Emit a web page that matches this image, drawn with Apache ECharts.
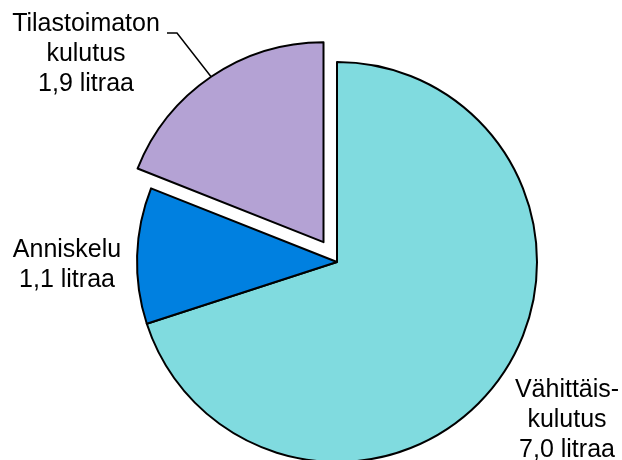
<!DOCTYPE html>
<html>
<head>
<meta charset="utf-8">
<script src="https://cdn.jsdelivr.net/npm/echarts@6/dist/echarts.min.js"></script>
<style>
	html, body { margin: 0; padding: 0; background: #fff; }
	#main { width: 622px; height: 460px; }
</style>
</head>
<body>
<div id="main"></div>
<script>
// kulutus litroina (100 % alkoholia) asukasta kohden
var names = ['Vähittäis-\nkulutus', 'Anniskelu', 'Tilastoimaton\nkulutus'];
var values = [7.0, 1.1, 1.9];
var colors = ['#80DBDF', '#0080E0', '#B4A2D4'];
var exploded = [false, false, true];

// label anchors (px) for each slice
var labelPos = [[567, 420], [67, 265], [86, 54]];

var CX = 337, CY = 262, R = 200, OFFSET = 24;

var total = values.reduce(function(a, b) { return a + b; }, 0);

// centre of the exploded piece, moved along its mid angle
function explodedCenter(idx) {
	var before = 0;
	for (var i = 0; i < idx; i++) before += values[i];
	var mid = (before + values[idx] / 2) / total * 2 * Math.PI;
	return [CX + OFFSET * Math.sin(mid), CY - OFFSET * Math.cos(mid)];
}

var fmt = function(p) {
	return p.name + '\n' + p.value.toFixed(1).replace('.', ',') + ' litraa';
};

var labelBase = {
	show: true,
	position: 'outside',
	fontFamily: 'Liberation Sans, Arial, sans-serif',
	fontSize: 25,
	lineHeight: 30,
	color: '#000',
	align: 'center',
	formatter: fmt
};

function makeData(showExploded) {
	return names.map(function(n, i) {
		var visible = exploded[i] == showExploded;
		return {
			name: n,
			value: values[i],
			itemStyle: visible ? { color: colors[i] } : { color: 'rgba(0,0,0,0)', borderWidth: 0 },
			label: { show: visible },
			labelLine: { show: visible && exploded[i] }
		};
	});
}

function layout(params) {
	var pos = labelPos[params.dataIndex];
	var res = { x: pos[0], y: pos[1], align: 'center', verticalAlign: 'middle' };
	if (exploded[params.dataIndex] && params.labelLinePoints) {
		var p0 = params.labelLinePoints[0];
		res.labelLinePoints = [p0, [177, 33], [167, 33]];
	}
	return res;
}

var seriesBase = {
	type: 'pie',
	radius: R,
	startAngle: 90,
	clockwise: true,
	silent: true,
	avoidLabelOverlap: false,
	itemStyle: { borderColor: '#000', borderWidth: 2 },
	emphasis: { disabled: true },
	label: labelBase,
	labelLine: { length: 0, length2: 0, lineStyle: { color: '#000', width: 1.5 } },
	labelLayout: layout
};

var chart = echarts.init(document.getElementById('main'), null, { renderer: 'canvas' });
chart.setOption({
	animation: false,
	series: [
		Object.assign({}, seriesBase, { center: [CX, CY], data: makeData(false) }),
		Object.assign({}, seriesBase, { center: explodedCenter(2), data: makeData(true) })
	]
});
</script>
</body>
</html>
